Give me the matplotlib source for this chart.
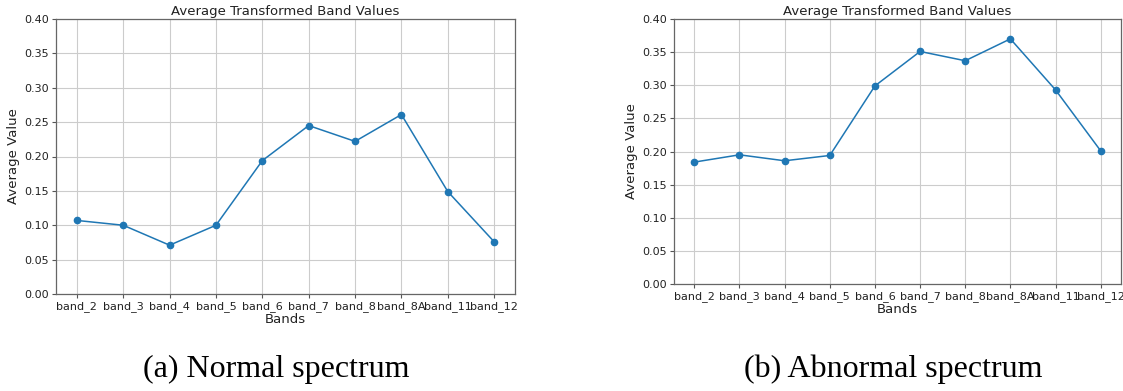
import numpy as np
import matplotlib
matplotlib.use('Agg')
import matplotlib.pyplot as plt

# Band data
bands = ['band_2', 'band_3', 'band_4', 'band_5', 'band_6', 'band_7',
         'band_8', 'band_8A', 'band_11', 'band_12']
normal_vals = [0.107, 0.100, 0.071, 0.100, 0.194, 0.245, 0.222, 0.261, 0.149, 0.076]
abnormal_vals = [0.184, 0.195, 0.186, 0.194, 0.299, 0.351, 0.337, 0.370, 0.293, 0.201]
captions = ['(a) Normal spectrum', '(b) Abnormal spectrum']

W, H = 1123, 391
fig = plt.figure(figsize=(W / 100, H / 100), dpi=100)

def px_axes(x0, x1, y0, y1):
    # axes from pixel box (top-left origin)
    return fig.add_axes([x0 / W, 1 - y1 / H, (x1 - x0) / W, (y1 - y0) / H])

ax_a = px_axes(56, 515, 19, 294)
ax_b = px_axes(674, 1121, 19, 284)

for ax, vals in zip([ax_a, ax_b], [normal_vals, abnormal_vals]):
    ax.plot(bands, vals, marker='o', markersize=4.5, linewidth=1.1, color='tab:blue')
    ax.set_ylim(0, 0.40)
    ax.set_yticks(np.arange(0, 0.401, 0.05))
    ax.set_title('Average Transformed Band Values', fontsize=9.5, pad=3, color='#222222')
    ax.set_xlabel('Bands', fontsize=9.5, labelpad=1, color='#222222')
    ax.set_ylabel('Average Value', fontsize=9.5, labelpad=3, color='#222222')
    ax.tick_params(labelsize=8, length=3, pad=2, labelcolor='#222222', color='#555555')
    ax.grid(True, color='#cccccc', linewidth=0.8)
    for s in ax.spines.values():
        s.set_color('#666666')
        s.set_linewidth(0.9)

fig.text(276 / W, 1 - 369 / H, captions[0], fontsize=23, family='Liberation Serif',
         ha='center', va='center')
fig.text(893 / W, 1 - 369 / H, captions[1], fontsize=23, family='Liberation Serif',
         ha='center', va='center')

plt.savefig('out.png', dpi=100)
